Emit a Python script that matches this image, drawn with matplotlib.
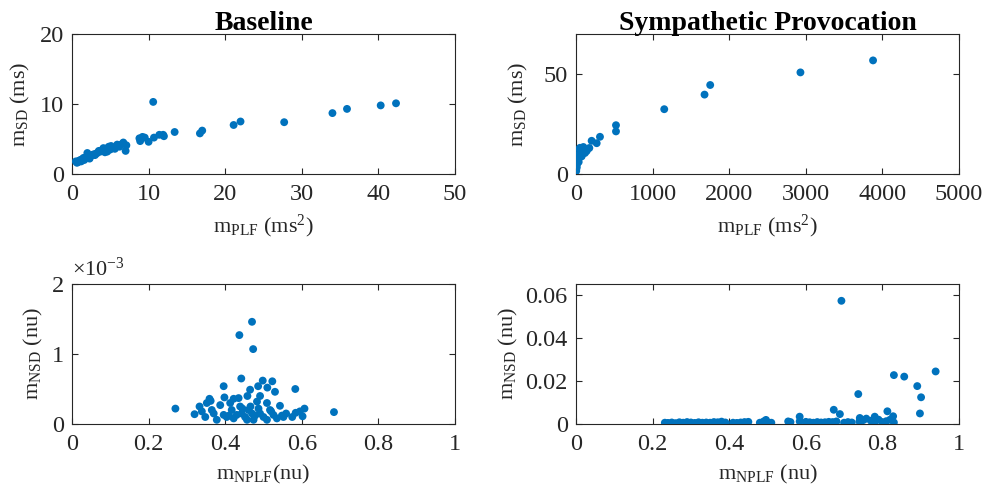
import matplotlib
matplotlib.use("Agg")
import matplotlib.pyplot as plt
from matplotlib.ticker import FuncFormatter

plt.rcParams['font.family'] = ['Liberation Serif', 'DejaVu Serif']
plt.rcParams['mathtext.fontset'] = 'custom'
plt.rcParams['mathtext.rm'] = 'Liberation Serif'
plt.rcParams['mathtext.it'] = 'Liberation Serif:italic'
plt.rcParams['mathtext.bf'] = 'Liberation Serif:bold'

# ---- Baseline: m_PLF vs m_SD ----
base_plf = [10.6, 42.3, 40.3, 35.9, 34.0, 27.7, 22.0, 21.1, 17.0, 16.7, 13.4, 12.0, 11.4,
            10.7, 10.0, 9.2, 8.8, 8.9, 7.1, 7.0, 6.7, 6.4, 5.9, 5.6, 5.4, 5.1, 4.8, 4.6,
            4.4, 4.1, 3.9, 3.7, 3.5, 3.3, 3.1, 2.8, 2.6, 2.4, 2.2, 2.0, 1.9, 1.7, 1.5,
            1.3, 1.1, 0.9, 0.65, 0.5, 6.2, 5.0, 4.3, 3.0, 2.3, 1.6, 1.2, 0.8, 9.5, 11.9]
base_sd = [10.3, 10.1, 9.8, 9.3, 8.7, 7.4, 7.5, 7.0, 6.2, 5.8, 6.0, 5.4, 5.6,
           5.2, 4.6, 5.3, 5.1, 4.7, 4.1, 3.3, 4.5, 4.2, 4.2, 3.6, 3.7, 4.0, 3.9, 3.2,
           3.6, 3.7, 3.4, 3.2, 3.3, 3.0, 2.9, 2.8, 2.7, 2.5, 2.6, 3.0, 2.4, 2.3, 2.3,
           2.1, 2.0, 1.9, 1.6, 1.8, 3.9, 3.5, 3.1, 2.7, 2.2, 2.0, 1.8, 1.7, 5.2, 5.6]

# ---- Sympathetic provocation: m_PLF vs m_SD ----
symp_plf = [3878, 2930, 1752, 1678, 1152, 522, 522, 313, 204, 270, 174, 96, 52, 117,
            74, 30, 17, 9, 2, 140, 60, 40, 25, 12, 5, 20, 45, 85, 8, 3, 35, 15, 100, 65]
symp_sd = [56.8, 50.8, 44.5, 39.7, 32.4, 24.4, 21.3, 18.6, 16.6, 15.4, 13.0, 13.5, 13.1,
           10.5, 8.8, 7.1, 5.5, 3.8, 2.2, 11.5, 11.8, 10.0, 8.0, 6.5, 4.5, 9.0, 12.5,
           12.0, 3.0, 1.5, 6.0, 7.5, 11.0, 9.5]

# ---- Baseline: m_NPLF vs m_NSD ----
base_nplf = [0.470, 0.437, 0.473, 0.442, 0.498, 0.523, 0.396, 0.510, 0.486, 0.583, 0.465,
             0.530, 0.458, 0.491, 0.398, 0.422, 0.435, 0.359, 0.352, 0.270, 0.684, 0.607,
             0.584, 0.602, 0.543, 0.559, 0.333, 0.320, 0.348, 0.370, 0.387, 0.413, 0.417,
             0.439, 0.452, 0.474, 0.378, 0.483, 0.509, 0.517, 0.500, 0.535, 0.404, 0.422,
             0.443, 0.461, 0.470, 0.491, 0.526, 0.552, 0.365, 0.339, 0.396, 0.430, 0.457,
             0.509, 0.487, 0.362, 0.445, 0.478, 0.520, 0.548, 0.575, 0.595, 0.410, 0.466]
base_nsd = [1.46, 1.27, 1.07, 0.65, 0.62, 0.61, 0.54, 0.52, 0.54, 0.50, 0.49,
            0.46, 0.40, 0.40, 0.38, 0.36, 0.37, 0.36, 0.30, 0.22, 0.17, 0.22,
            0.16, 0.11, 0.26, 0.15, 0.25, 0.14, 0.10, 0.15, 0.27, 0.30, 0.20,
            0.25, 0.10, 0.06, 0.06, 0.32, 0.30, 0.20, 0.10, 0.08, 0.10, 0.08,
            0.15, 0.20, 0.15, 0.15, 0.13, 0.10, 0.20, 0.18, 0.13, 0.13, 0.06,
            0.06, 0.22, 0.33, 0.22, 0.12, 0.18, 0.12, 0.10, 0.18, 0.12, 0.25]
base_nsd = [v * 1e-3 for v in base_nsd]

# ---- Sympathetic provocation: m_NPLF vs m_NSD ----
symp_nplf = [0.693, 0.939, 0.830, 0.857, 0.891, 0.901, 0.737, 0.898, 0.673, 0.689, 0.813,
             0.828, 0.780, 0.758, 0.741, 0.584, 0.584, 0.554, 0.496,
             0.232, 0.24, 0.25, 0.26, 0.27, 0.28, 0.29, 0.30, 0.31, 0.32, 0.33, 0.34,
             0.35, 0.36, 0.37, 0.38, 0.39, 0.41, 0.42, 0.43, 0.44, 0.45, 0.48, 0.49,
             0.50, 0.51, 0.56, 0.60, 0.61, 0.62, 0.63, 0.64, 0.65, 0.66, 0.67, 0.68,
             0.70, 0.71, 0.72, 0.74, 0.75, 0.77, 0.78, 0.79, 0.80, 0.81, 0.82, 0.83]
symp_nsd = [0.0572, 0.0244, 0.0227, 0.0220, 0.0176, 0.0124, 0.0139, 0.0049, 0.0066, 0.0046,
            0.0059, 0.0036, 0.0034, 0.0025, 0.0028, 0.0034, 0.0012, 0.0012, 0.0019,
            0.0006, 0.0005, 0.0007, 0.0004, 0.0008, 0.0006, 0.0009, 0.0007, 0.0005,
            0.0008, 0.0006, 0.0007, 0.0006, 0.0009, 0.0008, 0.0011, 0.0007, 0.0006,
            0.0005, 0.0007, 0.0009, 0.0010, 0.0006, 0.0012, 0.0008, 0.0006, 0.0009,
            0.0010, 0.0008, 0.0006, 0.0009, 0.0007, 0.0008, 0.0010, 0.0009, 0.0012,
            0.0006, 0.0009, 0.0007, 0.0012, 0.0018, 0.0015, 0.0011, 0.0020, 0.0008,
            0.0013, 0.0020, 0.0007]

titles = ["Baseline", "Sympathetic Provocation"]
blue = "#0072BD"
dark = "#262626"
TFS = 17.5   # tick labels
LFS = 16     # axis labels

fig = plt.figure(figsize=(9.86, 4.92), dpi=100)
W = 383 / 986
H = 140 / 492
lefts = [72 / 986, 576 / 986]
bottoms = [(492 - 174) / 492, (492 - 424) / 492]

axes = [[fig.add_axes([lefts[c], bottoms[r], W, H]) for c in range(2)] for r in range(2)]


def style(ax):
    for s in ax.spines.values():
        s.set_color(dark)
        s.set_linewidth(0.8)
    ax.tick_params(direction='in', top=True, right=True, labelsize=TFS, colors=dark,
                   length=4, width=0.8)
    ax.tick_params(axis='x', pad=7)
    ax.tick_params(axis='y', pad=6)


ms = 32
ax = axes[0][0]
ax.scatter(base_plf, base_sd, s=ms, color=blue, edgecolors='none', zorder=3)
ax.set_xlim(0, 50); ax.set_ylim(0, 20)
ax.set_xticks([0, 10, 20, 30, 40, 50]); ax.set_yticks([0, 10, 20])
ax.set_xlabel(r"m$_{\rm PLF}$ (ms$^{2}$)", fontsize=LFS, color=dark, labelpad=6)
ax.set_ylabel(r"m$_{\rm SD}$ (ms)", fontsize=LFS, color=dark)
ax.yaxis.set_label_coords(-0.104, 0.5)
ax.set_title(titles[0], fontsize=20, fontweight='bold', pad=3)

ax = axes[0][1]
ax.scatter(symp_plf, symp_sd, s=ms, color=blue, edgecolors='none', zorder=3)
ax.set_xlim(0, 5000); ax.set_ylim(0, 70)
ax.set_xticks([0, 1000, 2000, 3000, 4000, 5000]); ax.set_yticks([0, 50])
ax.set_xlabel(r"m$_{\rm PLF}$ (ms$^{2}$)", fontsize=LFS, color=dark, labelpad=6)
ax.set_ylabel(r"m$_{\rm SD}$ (ms)", fontsize=LFS, color=dark)
ax.yaxis.set_label_coords(-0.120, 0.5)
ax.set_title(titles[1], fontsize=20, fontweight='bold', pad=3)

ax = axes[1][0]
ax.scatter(base_nplf, base_nsd, s=ms, color=blue, edgecolors='none', zorder=3)
ax.set_xlim(0, 1); ax.set_ylim(0, 2e-3)
ax.set_xticks([0, 0.2, 0.4, 0.6, 0.8, 1]); ax.set_yticks([0, 1e-3, 2e-3])
ax.yaxis.set_major_formatter(FuncFormatter(lambda v, p: f"{v * 1e3:g}"))
ax.xaxis.set_major_formatter(FuncFormatter(lambda v, p: f"{v:g}"))
ax.set_xlabel(r"m$_{\rm NPLF}$(nu)", fontsize=LFS, color=dark, labelpad=6)
ax.set_ylabel(r"m$_{\rm NSD}$ (nu)", fontsize=LFS, color=dark)
ax.yaxis.set_label_coords(-0.070, 0.5)
ax.text(0.0, 1.02, r"$\times$10$^{-3}$", transform=ax.transAxes, fontsize=LFS,
        color=dark, ha='left', va='bottom')

ax = axes[1][1]
ax.scatter(symp_nplf, symp_nsd, s=ms, color=blue, edgecolors='none', zorder=3)
ax.set_xlim(0, 1); ax.set_ylim(0, 0.065)
ax.set_xticks([0, 0.2, 0.4, 0.6, 0.8, 1]); ax.set_yticks([0, 0.02, 0.04, 0.06])
ax.yaxis.set_major_formatter(FuncFormatter(lambda v, p: f"{v:g}"))
ax.xaxis.set_major_formatter(FuncFormatter(lambda v, p: f"{v:g}"))
ax.set_xlabel(r"m$_{\rm NPLF}$ (nu)", fontsize=LFS, color=dark, labelpad=6)
ax.set_ylabel(r"m$_{\rm NSD}$ (nu)", fontsize=LFS, color=dark)
ax.yaxis.set_label_coords(-0.146, 0.5)

for row in axes:
    for a in row:
        style(a)

fig.savefig("out.png", dpi=100)
